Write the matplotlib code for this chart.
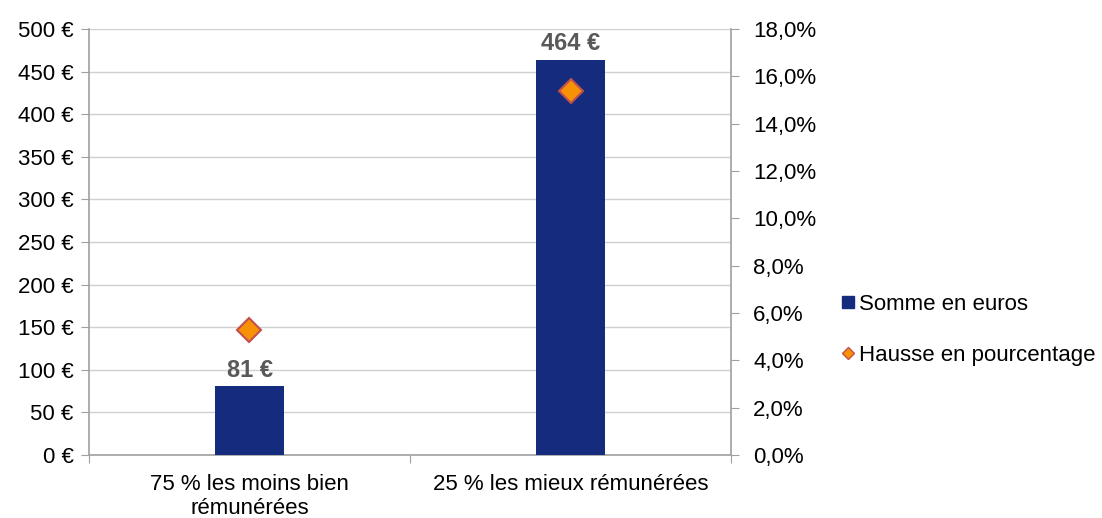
import matplotlib
matplotlib.use("Agg")
import matplotlib.pyplot as plt
from matplotlib.lines import Line2D
from matplotlib.ticker import FuncFormatter, MultipleLocator

plt.rcParams['font.family'] = ['Liberation Sans', 'DejaVu Sans']

categories = ["75 % les moins bien\nrémunérées", "25 % les mieux rémunérées"]
somme = [81, 464]
hausse = [5.3, 15.4]

FS = 16
fig = plt.figure(figsize=(11.02, 5.18), dpi=100)
ax = fig.add_axes([89/1102, 1-455/518, (731-89)/1102, (455-29)/518])
ax2 = ax.twinx()

x = [0, 1]
bar_color = '#152B7E'
ax.bar(x, somme, width=0.218, color=bar_color, zorder=3)
for xi, v in zip(x, somme):
    ax.text(xi, v + 5, f"{v} €", ha='center', va='bottom', fontsize=17,
            fontweight='bold', color='#595959', zorder=5)

ax.set_xlim(-0.5, 1.5)
ax.set_ylim(0, 500)
ax.yaxis.set_major_locator(MultipleLocator(50))
ax.yaxis.set_major_formatter(FuncFormatter(lambda v, p: f"{int(v)} €"))
ax.grid(axis='y', color='#D0D0D0', linewidth=1, zorder=0)
ax.set_axisbelow(True)

ax2.plot(x, hausse, linestyle='none', marker='D', markersize=12.5,
         markerfacecolor='#F79106', markeredgecolor='#C0504D',
         markeredgewidth=1.5, zorder=6)
ax2.set_ylim(0, 18)
ax2.yaxis.set_major_locator(MultipleLocator(2))
ax2.yaxis.set_major_formatter(FuncFormatter(lambda v, p: f"{v:.1f}%".replace('.', ',')))

ax.set_xticks([-0.5, 0.5, 1.5])
ax.set_xticklabels([])
ax.set_xticks(x, minor=True)
ax.set_xticklabels(categories, minor=True, fontsize=FS, linespacing=1.15)
ax.tick_params(axis='x', which='minor', length=0, pad=14)
ax.tick_params(axis='x', which='major', length=6, color='#A0A0A0', direction='out')

for a in (ax, ax2):
    a.spines['top'].set_visible(False)
    for s in ['left', 'right', 'bottom']:
        a.spines[s].set_color('#A0A0A0')
        a.spines[s].set_linewidth(1.2)
ax.spines['right'].set_visible(False)
ax2.spines['left'].set_visible(False)
ax2.spines['bottom'].set_visible(False)

ax.tick_params(axis='y', labelsize=FS, length=6, color='#A0A0A0', pad=5)
ax2.tick_params(axis='y', labelsize=FS, length=6, color='#A0A0A0', pad=10)

handles = [
    Line2D([], [], linestyle='none', marker='s', markersize=8.5, markerfacecolor=bar_color,
           markeredgecolor=bar_color, label='Somme en euros'),
    Line2D([], [], linestyle='none', marker='D', markersize=6, markerfacecolor='#F79106',
           markeredgecolor='#C0504D', markeredgewidth=1, label='Hausse en pourcentage'),
]
fig.legend(handles=handles, loc='center left', bbox_to_anchor=(841/1102, 1-330/518),
           frameon=False, fontsize=FS, handlelength=0.6, handletextpad=0.2,
           labelspacing=1.35, borderaxespad=0, borderpad=0)

fig.savefig("out.png", dpi=100)
